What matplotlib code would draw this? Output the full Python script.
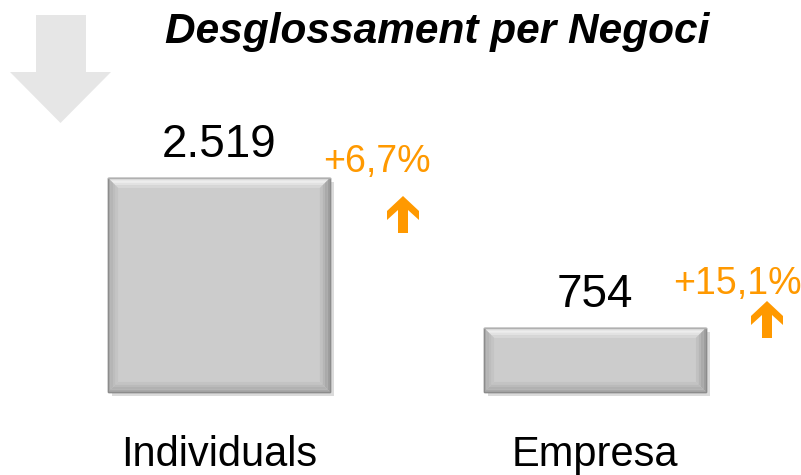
import matplotlib
matplotlib.use("Agg")
import matplotlib.pyplot as plt
import matplotlib.patheffects as pe
from matplotlib.patches import Polygon
from matplotlib.transforms import IdentityTransform

categories = ["Individuals", "Empresa"]
values = [2519, 754]
value_labels = ["2.519", "754"]
growth_labels = ["+6,7%", "+15,1%"]
title = "Desglossament per Negoci"

orange = '#ff9900'
plt.rcParams['font.family'] = ['Liberation Sans', 'DejaVu Sans']

W, H = 801, 475
fig = plt.figure(figsize=(W / 100, H / 100), dpi=100)
ax = fig.add_axes([0, 0, 1, 1])
xlim = (-0.5824, 1.5479)
ylim = (-977, 4614)
ax.set_xlim(*xlim)
ax.set_ylim(*ylim)
ax.axis('off')

# data units per pixel
sx = (xlim[1] - xlim[0]) / W
sy = (ylim[1] - ylim[0]) / H


def px(pts):
    # pixel coords measured from the top-left -> display coords
    return [(x, H - y) for x, y in pts]


x = list(range(len(categories)))
bars = ax.bar(x, values, width=0.59, color='#cccccc', edgecolor='#8c8c8c',
              linewidth=1.0, zorder=2)
for b in bars:
    b.set_path_effects([pe.SimplePatchShadow(offset=(3, -3), shadow_rgbFace='#888888', alpha=0.3),
                        pe.Normal()])

# bevel facets, each split in a few bands so it fades into the face
bev = 10
nb = 4
face = (0.8, 0.8, 0.8)
edge_cols = {'top': (0.97, 0.97, 0.97), 'left': (0.68, 0.68, 0.68),
             'right': (0.62, 0.62, 0.62), 'bottom': (0.66, 0.66, 0.66)}


def mix(c, t):
    return tuple(fc + (cc - fc) * t for cc, fc in zip(c, face))


for b in bars:
    x0, y0 = b.get_x(), b.get_y()
    x1, y1 = x0 + b.get_width(), y0 + b.get_height()
    for k in range(nb):
        a, o = k * bev / nb, (k + 1) * bev / nb
        t = 1 - k / nb
        ax0, ax1, ay0, ay1 = x0 + a * sx, x1 - a * sx, y0 + a * sy, y1 - a * sy
        bx0, bx1, by0, by1 = x0 + o * sx, x1 - o * sx, y0 + o * sy, y1 - o * sy
        facets = [
            ([(ax0, ay1), (ax1, ay1), (bx1, by1), (bx0, by1)], 'top'),
            ([(ax0, ay0), (ax0, ay1), (bx0, by1), (bx0, by0)], 'left'),
            ([(ax1, ay0), (ax1, ay1), (bx1, by1), (bx1, by0)], 'right'),
            ([(ax0, ay0), (ax1, ay0), (bx1, by0), (bx0, by0)], 'bottom'),
        ]
        for pts, side in facets:
            ax.add_patch(Polygon(pts, closed=True, facecolor=mix(edge_cols[side], t),
                                 edgecolor='none', zorder=3))
    ax.add_patch(Polygon([(x0, y0), (x1, y0), (x1, y1), (x0, y1)], closed=True,
                         facecolor='none', edgecolor='#8c8c8c', linewidth=1.0, zorder=4))
    ax.plot([x0, x1], [y1, y1], color='#b0b0b0', lw=1.0, zorder=5)

# value labels above bars
for b, lab in zip(bars, value_labels):
    ax.annotate(lab, (b.get_x() + b.get_width() / 2, b.get_height()), xytext=(0, 21),
                textcoords='offset pixels', ha='center', va='baseline', fontsize=33)

# category labels
for xi, cat in zip(x, categories):
    ax.annotate(cat, (xi, 0), xytext=(0, -74), textcoords='offset pixels',
                ha='center', va='baseline', fontsize=30)

# growth labels
growth_offsets = [(104, 6), (78, 34)]
for b, lab, off in zip(bars, growth_labels, growth_offsets):
    ax.annotate(lab, (b.get_x() + b.get_width() / 2, b.get_height()), xytext=off,
                textcoords='offset pixels', ha='left', va='baseline', fontsize=27, color=orange)


def up_arrow(cx, t):
    return [(cx, t), (cx + 16, t + 15), (cx + 16, t + 24), (cx + 5, t + 14),
            (cx + 5, t + 37), (cx - 5, t + 37), (cx - 5, t + 14), (cx - 16, t + 24),
            (cx - 16, t + 15)]


for pts in [up_arrow(403, 196), up_arrow(767, 301)]:
    fig.add_artist(Polygon(px(pts), closed=True, facecolor=orange, edgecolor='none',
                           transform=IdentityTransform()))

# big grey down arrow
down = [(36, 15), (86, 15), (86, 72), (111, 72), (60.5, 123), (10, 72), (36, 72)]
fig.add_artist(Polygon(px(down), closed=True, facecolor='#e6e6e6', edgecolor='none',
                       transform=IdentityTransform()))

fig.text(437 / W, 1 - 43 / H, title, ha='center', va='baseline', fontsize=30.5,
         weight='bold', style='italic')

fig.savefig('out.png', dpi=100)
